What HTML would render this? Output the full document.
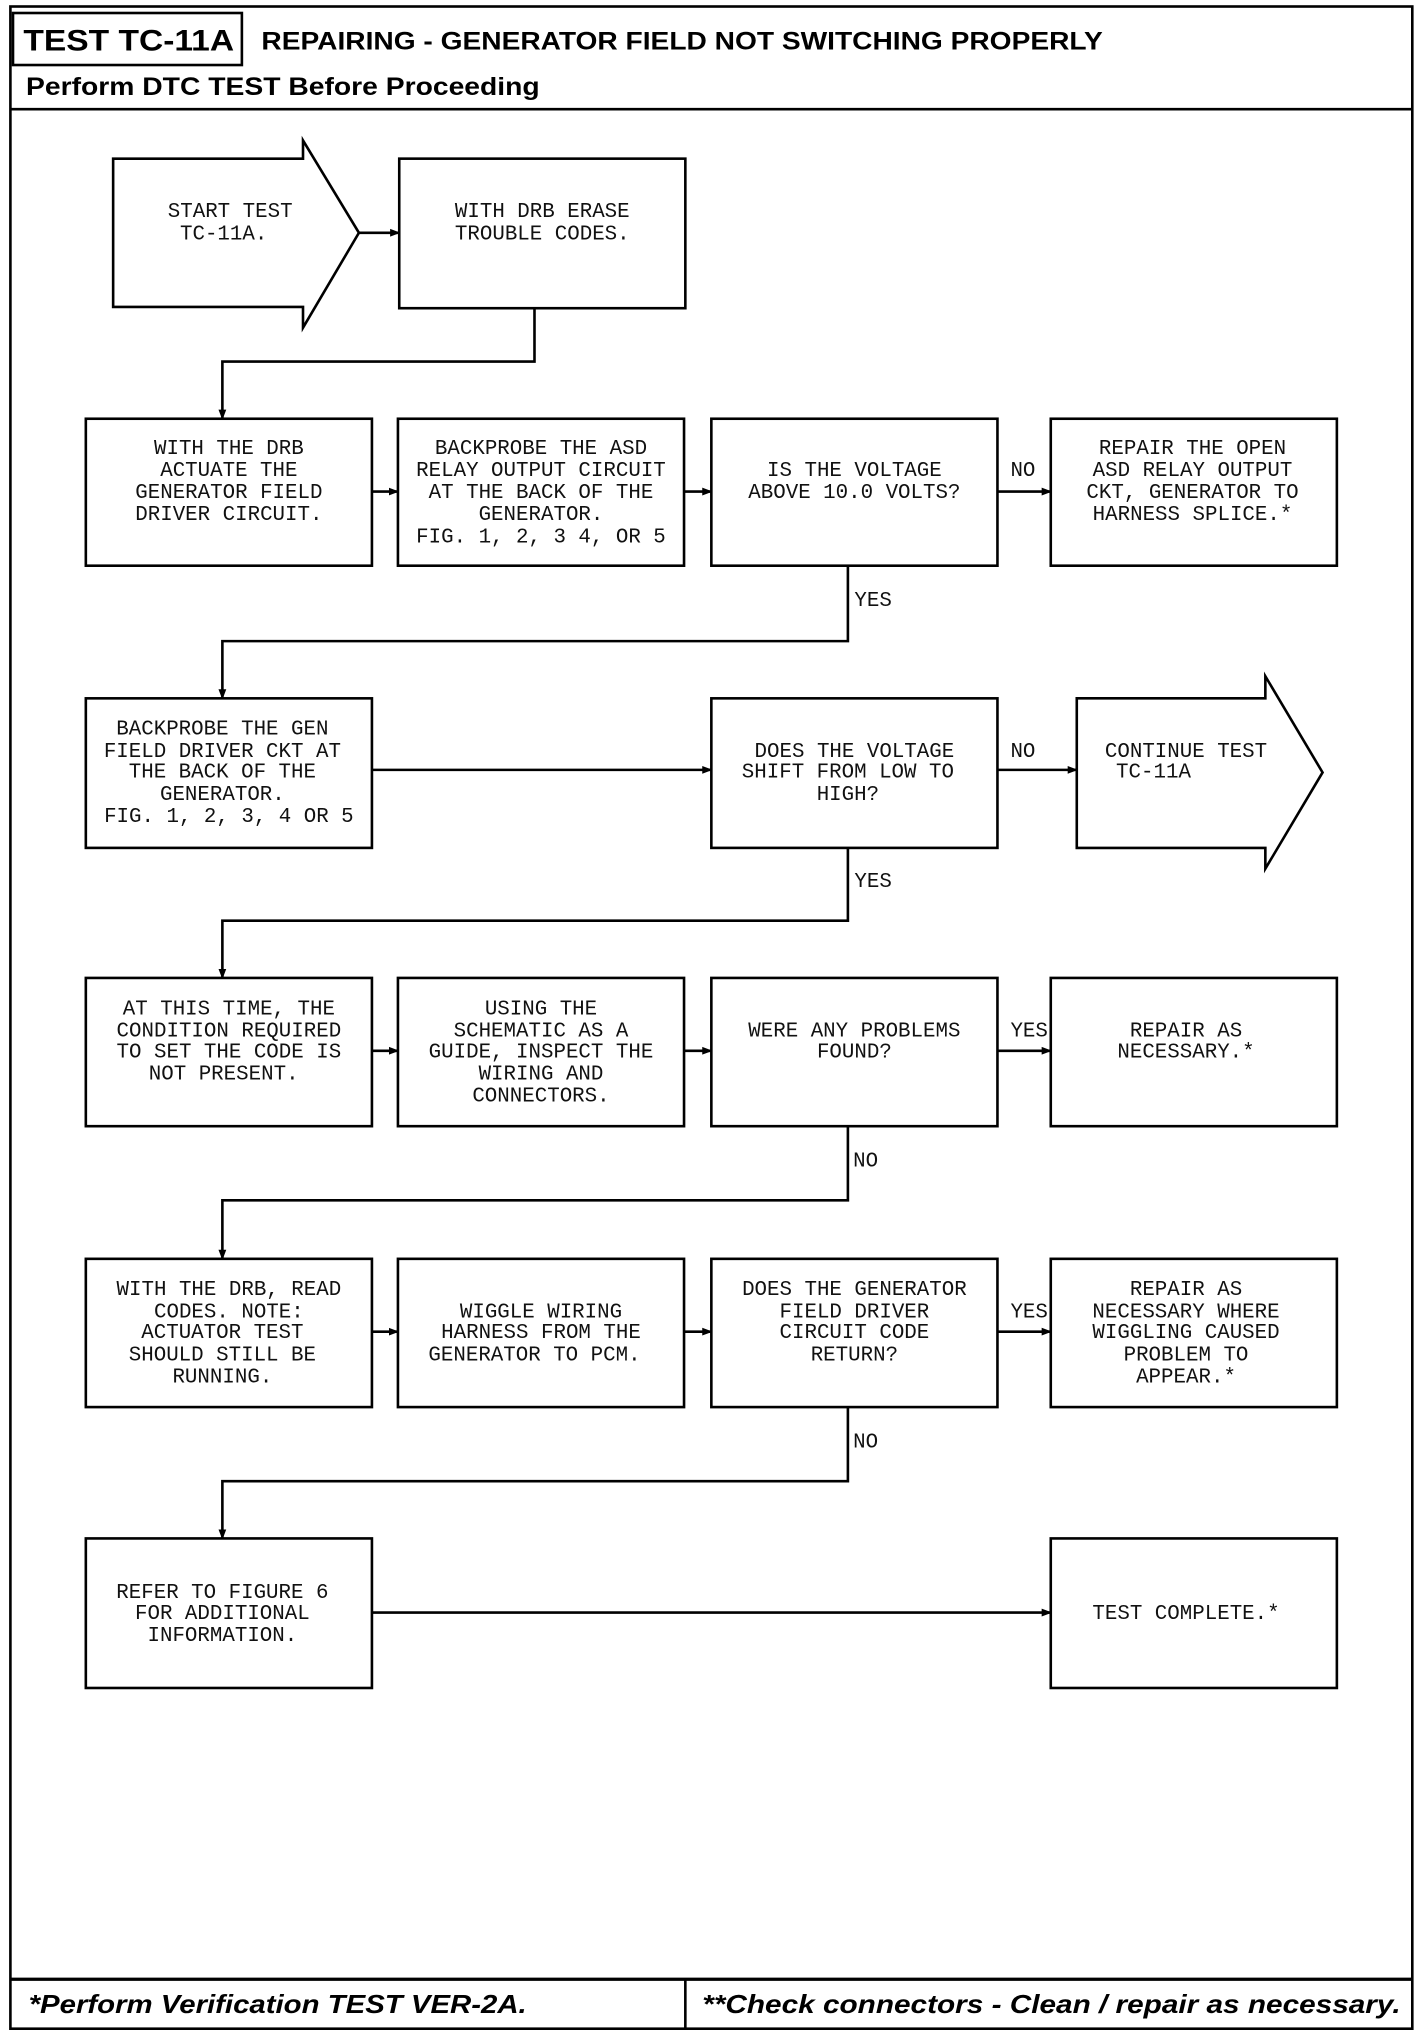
<!DOCTYPE html>
<html><head><meta charset="utf-8"><style>
html,body{margin:0;padding:0;background:#fff;}
svg{display:block;}
.t{font-family:"Liberation Mono",monospace;font-size:16px;fill:#111;text-anchor:middle;}
.l{font-family:"Liberation Mono",monospace;font-size:16px;fill:#111;}
.h{font-family:"Liberation Sans",sans-serif;font-weight:bold;fill:#000;}
</style></head><body>
<svg width="1424" height="2030" viewBox="0 0 1095 1561" preserveAspectRatio="none" xmlns="http://www.w3.org/2000/svg">
<defs><marker id="a" markerWidth="8" markerHeight="8" refX="7" refY="4" orient="auto" markerUnits="userSpaceOnUse"><path d="M0,1 L8,4 L0,7 z" fill="#000"/></marker></defs>
<g fill="none" stroke="#000" stroke-width="2">
<rect x="8" y="5" width="1078" height="1555"/>
<rect x="10" y="10" width="176" height="40"/>
<line x1="8" y1="84" x2="1086" y2="84"/>
<line x1="8" y1="1522" x2="1086" y2="1522" stroke-width="2.5"/>
<line x1="527" y1="1522" x2="527" y2="1560"/>
<path d="M87,122 H233 V108 L276,179 L233,252 V236 H87 Z"/>
<rect x="307" y="122" width="220" height="115"/>
<line x1="276" y1="179" x2="307" y2="179" marker-end="url(#a)"/>
<path d="M411,237 V278 H171 V322" marker-end="url(#a)"/>
<rect x="66" y="322" width="220" height="113"/>
<rect x="306" y="322" width="220" height="113"/>
<rect x="547" y="322" width="220" height="113"/>
<rect x="808" y="322" width="220" height="113"/>
<line x1="286" y1="378" x2="306" y2="378" marker-end="url(#a)"/>
<line x1="526" y1="378" x2="547" y2="378" marker-end="url(#a)"/>
<line x1="767" y1="378" x2="808" y2="378" marker-end="url(#a)"/>
<path d="M652,435 V493 H171 V537" marker-end="url(#a)"/>
<rect x="66" y="537" width="220" height="115"/>
<rect x="547" y="537" width="220" height="115"/>
<path d="M828,537 H973 V520 L1017,594 L973,668 V652 H828 Z"/>
<line x1="286" y1="592" x2="547" y2="592" marker-end="url(#a)"/>
<line x1="767" y1="592" x2="828" y2="592" marker-end="url(#a)"/>
<path d="M652,652 V708 H171 V752" marker-end="url(#a)"/>
<rect x="66" y="752" width="220" height="114"/>
<rect x="306" y="752" width="220" height="114"/>
<rect x="547" y="752" width="220" height="114"/>
<rect x="808" y="752" width="220" height="114"/>
<line x1="286" y1="808" x2="306" y2="808" marker-end="url(#a)"/>
<line x1="526" y1="808" x2="547" y2="808" marker-end="url(#a)"/>
<line x1="767" y1="808" x2="808" y2="808" marker-end="url(#a)"/>
<path d="M652,866 V923 H171 V968" marker-end="url(#a)"/>
<rect x="66" y="968" width="220" height="114"/>
<rect x="306" y="968" width="220" height="114"/>
<rect x="547" y="968" width="220" height="114"/>
<rect x="808" y="968" width="220" height="114"/>
<line x1="286" y1="1024" x2="306" y2="1024" marker-end="url(#a)"/>
<line x1="526" y1="1024" x2="547" y2="1024" marker-end="url(#a)"/>
<line x1="767" y1="1024" x2="808" y2="1024" marker-end="url(#a)"/>
<path d="M652,1082 V1139 H171 V1183" marker-end="url(#a)"/>
<rect x="66" y="1183" width="220" height="115"/>
<rect x="808" y="1183" width="220" height="115"/>
<line x1="286" y1="1240" x2="808" y2="1240" marker-end="url(#a)"/>
</g>
<text class="h" x="18" y="39" font-size="23" textLength="162" lengthAdjust="spacingAndGlyphs">TEST TC-11A</text>
<text class="h" x="201" y="38" font-size="19" textLength="647" lengthAdjust="spacingAndGlyphs">REPAIRING - GENERATOR FIELD NOT SWITCHING PROPERLY</text>
<text class="h" x="20" y="73" font-size="19" textLength="395" lengthAdjust="spacingAndGlyphs">Perform DTC TEST Before Proceeding</text>
<text class="h" x="22" y="1548" font-size="20" font-style="italic" textLength="383" lengthAdjust="spacingAndGlyphs">*Perform Verification TEST VER-2A.</text>
<text class="h" x="540" y="1548" font-size="20" font-style="italic" textLength="537" lengthAdjust="spacingAndGlyphs">**Check connectors - Clean / repair as necessary.</text>

<text class="t" x="177" y="167">START TEST</text><text class="t" x="172" y="184">TC-11A.</text>
<text class="t" x="417" y="167">WITH DRB ERASE</text><text class="t" x="417" y="184">TROUBLE CODES.</text>

<text class="t" x="176" y="349">WITH THE DRB</text><text class="t" x="176" y="366">ACTUATE THE</text><text class="t" x="176" y="383">GENERATOR FIELD</text><text class="t" x="176" y="400">DRIVER CIRCUIT.</text>
<text class="t" x="416" y="349">BACKPROBE THE ASD</text><text class="t" x="416" y="366">RELAY OUTPUT CIRCUIT</text><text class="t" x="416" y="383">AT THE BACK OF THE</text><text class="t" x="416" y="400">GENERATOR.</text><text class="t" x="416" y="417">FIG. 1, 2, 3 4, OR 5</text>
<text class="t" x="657" y="366">IS THE VOLTAGE</text><text class="t" x="657" y="383">ABOVE 10.0 VOLTS?</text>
<text class="l" x="777" y="366">NO</text>
<text class="t" x="917" y="349">REPAIR THE OPEN</text><text class="t" x="917" y="366">ASD RELAY OUTPUT</text><text class="t" x="917" y="383">CKT, GENERATOR TO</text><text class="t" x="917" y="400">HARNESS SPLICE.*</text>
<text class="l" x="657" y="466">YES</text>

<text class="t" x="171" y="565">BACKPROBE THE GEN</text><text class="t" x="171" y="582">FIELD DRIVER CKT AT</text><text class="t" x="171" y="598">THE BACK OF THE</text><text class="t" x="171" y="615">GENERATOR.</text><text class="t" x="176" y="632">FIG. 1, 2, 3, 4 OR 5</text>
<text class="t" x="657" y="582">DOES THE VOLTAGE</text><text class="t" x="652" y="598">SHIFT FROM LOW TO</text><text class="t" x="652" y="615">HIGH?</text>
<text class="l" x="777" y="582">NO</text>
<text class="t" x="912" y="582">CONTINUE TEST</text><text class="t" x="887" y="598">TC-11A</text>
<text class="l" x="657" y="682">YES</text>

<text class="t" x="176" y="780">AT THIS TIME, THE</text><text class="t" x="176" y="797">CONDITION REQUIRED</text><text class="t" x="176" y="813">TO SET THE CODE IS</text><text class="t" x="172" y="830">NOT PRESENT.</text>
<text class="t" x="416" y="780">USING THE</text><text class="t" x="416" y="797">SCHEMATIC AS A</text><text class="t" x="416" y="813">GUIDE, INSPECT THE</text><text class="t" x="416" y="830">WIRING AND</text><text class="t" x="416" y="847">CONNECTORS.</text>
<text class="t" x="657" y="797">WERE ANY PROBLEMS</text><text class="t" x="657" y="813">FOUND?</text>
<text class="l" x="777" y="797">YES</text>
<text class="t" x="912" y="797">REPAIR AS</text><text class="t" x="912" y="813">NECESSARY.*</text>
<text class="l" x="656" y="897">NO</text>

<text class="t" x="176" y="996">WITH THE DRB, READ</text><text class="t" x="176" y="1013">CODES. NOTE:</text><text class="t" x="171" y="1029">ACTUATOR TEST</text><text class="t" x="171" y="1046">SHOULD STILL BE</text><text class="t" x="171" y="1063">RUNNING.</text>
<text class="t" x="416" y="1013">WIGGLE WIRING</text><text class="t" x="416" y="1029">HARNESS FROM THE</text><text class="t" x="411" y="1046">GENERATOR TO PCM.</text>
<text class="t" x="657" y="996">DOES THE GENERATOR</text><text class="t" x="657" y="1013">FIELD DRIVER</text><text class="t" x="657" y="1029">CIRCUIT CODE</text><text class="t" x="657" y="1046">RETURN?</text>
<text class="l" x="777" y="1013">YES</text>
<text class="t" x="912" y="996">REPAIR AS</text><text class="t" x="912" y="1013">NECESSARY WHERE</text><text class="t" x="912" y="1029">WIGGLING CAUSED</text><text class="t" x="912" y="1046">PROBLEM TO</text><text class="t" x="912" y="1063">APPEAR.*</text>
<text class="l" x="656" y="1113">NO</text>

<text class="t" x="171" y="1229">REFER TO FIGURE 6</text><text class="t" x="171" y="1245">FOR ADDITIONAL</text><text class="t" x="171" y="1262">INFORMATION.</text>
<text class="t" x="912" y="1245">TEST COMPLETE.*</text>
</svg>
</body></html>
